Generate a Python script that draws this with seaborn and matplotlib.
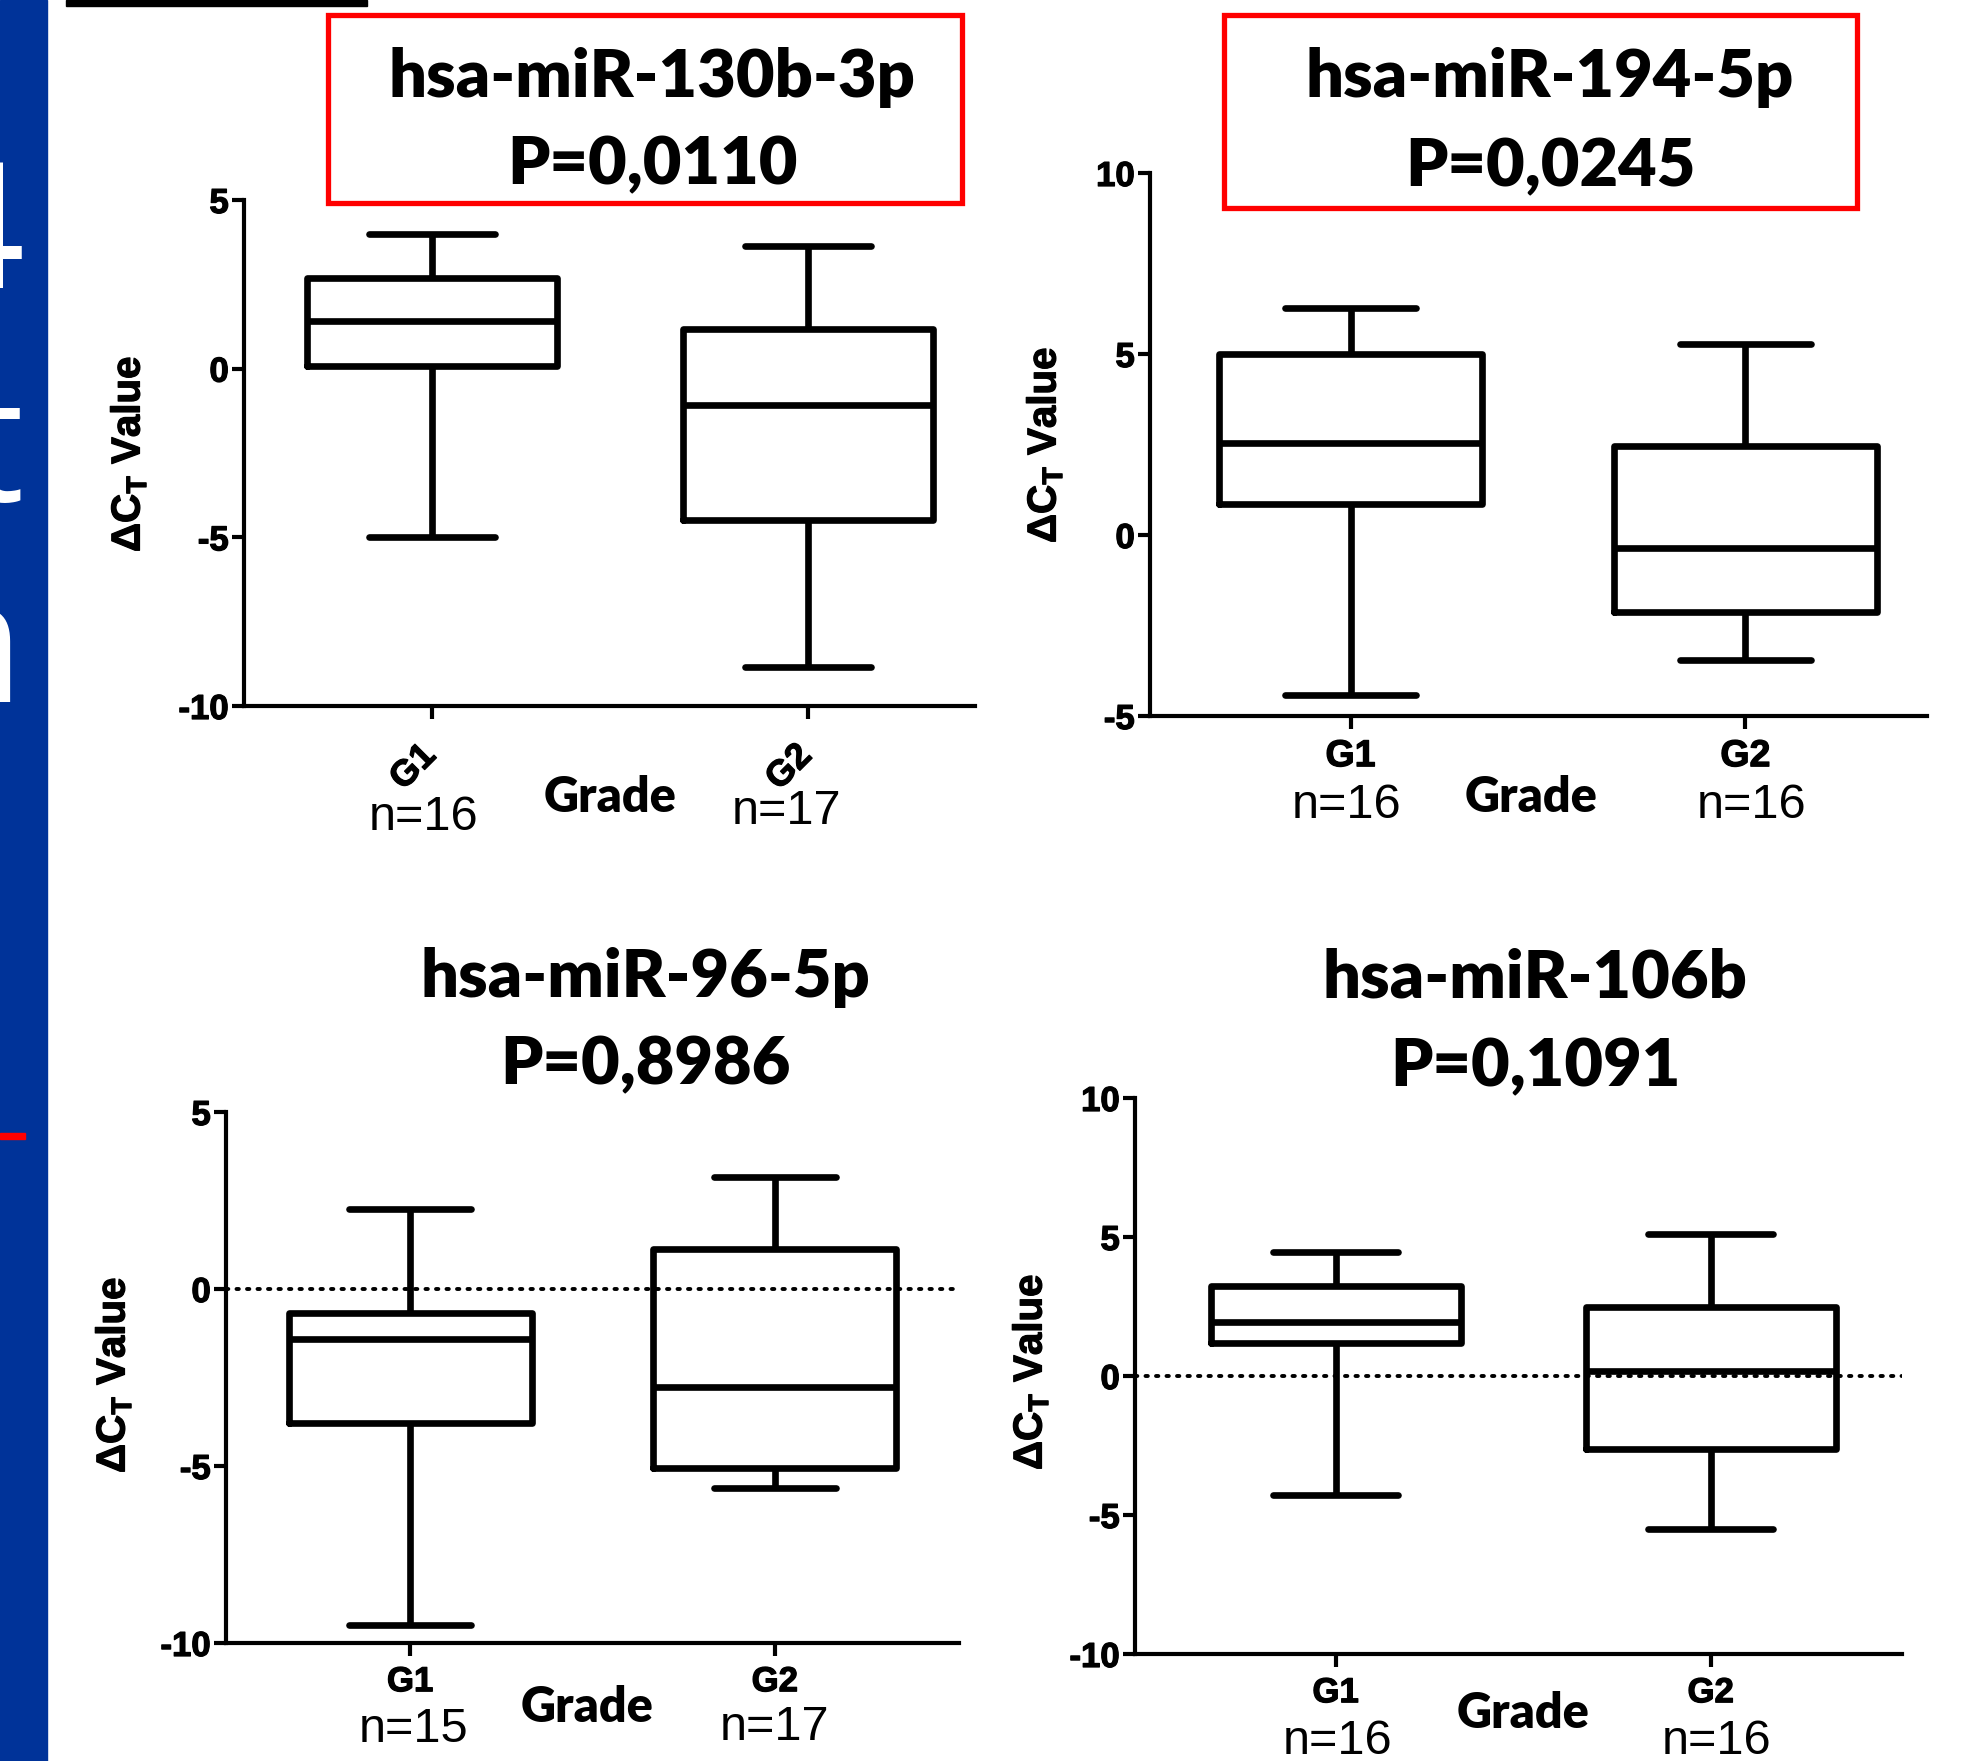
import matplotlib
matplotlib.use("Agg")
import matplotlib.pyplot as plt
import matplotlib.patheffects as pe
from matplotlib.transforms import ScaledTranslation
import seaborn as sns
import pandas as pd
from matplotlib.patches import Rectangle

sns.set_theme(style="ticks")
plt.rcParams['font.family'] = ['Liberation Sans', 'DejaVu Sans']
plt.rcParams['mathtext.fontset'] = 'custom'
plt.rcParams['mathtext.rm'] = 'Liberation Sans'
plt.rcParams['mathtext.bf'] = 'Liberation Sans:bold'
plt.rcParams['axes.unicode_minus'] = False

# ---------------- data (five-number summaries) ----------
groups = ["G1", "G2"]
mir130b_g1 = [-5.0, 0.07, 1.4, 2.7, 4.0]
mir130b_g2 = [-8.85, -4.5, -1.07, 1.19, 3.63]
mir194_g1 = [-4.41, 0.87, 2.53, 5.0, 6.28]
mir194_g2 = [-3.44, -2.12, -0.35, 2.47, 5.28]
mir96_g1 = [-9.48, -3.78, -1.41, -0.67, 2.26]
mir96_g2 = [-5.62, -5.06, -2.76, 1.13, 3.15]
mir106b_g1 = [-4.28, 1.17, 1.94, 3.24, 4.46]
mir106b_g2 = [-5.5, -2.61, 0.18, 2.48, 5.09]

titles = ["hsa-miR-130b-3p", "hsa-miR-194-5p", "hsa-miR-96-5p", "hsa-miR-106b"]
pvalues = ["P=0,0110", "P=0,0245", "P=0,8986", "P=0,1091"]
n_labels = [["n=16", "n=17"], ["n=16", "n=16"], ["n=15", "n=17"], ["n=16", "n=16"]]
y_ranges = [(-10, 5), (-5, 10), (-10, 5), (-10, 10)]
y_ticks = [[-10, -5, 0, 5], [-5, 0, 5, 10], [-10, -5, 0, 5], [-10, -5, 0, 5, 10]]
xlabel = "Grade"
ylabel = "ΔC$_\\mathbf{T}$ Value"

series = [(mir130b_g1, mir130b_g2), (mir194_g1, mir194_g2),
          (mir96_g1, mir96_g2), (mir106b_g1, mir106b_g2)]

# ---------------- layout (pixels in a 1965 x 1761 canvas) ---------------------
W, H = 1965, 1761
def fx(x): return x / W
def fy(y): return 1 - y / H

panels = [
    dict(l=244, r=975, t=200, b=706, xlim=(-0.5, 1.444), rot=45,
         title=(652, 78), pval=(652, 165), box=(328, 15, 962, 203),
         ylab=(128, 454), n=[(424, 817), (787, 812)], grade=(610, 798),
         zero=False, gsize=26),
    dict(l=1150, r=1927, t=173, b=716, xlim=(-0.508, 1.46), rot=0,
         title=(1550, 78), pval=(1550, 167), box=(1224, 15, 1857, 208),
         ylab=(1044, 445), n=[(1347, 805), (1752, 805)], grade=(1531, 797),
         zero=False, gsize=27),
    dict(l=226, r=959, t=1112, b=1643, xlim=(-0.505, 1.505), rot=0,
         title=(645, 978), pval=(645, 1065), box=None,
         ylab=(113, 1375), n=[(414, 1729), (775, 1727)], grade=(587, 1708),
         zero=True, gsize=25),
    dict(l=1135, r=1902, t=1098, b=1654, xlim=(-0.535, 1.51), rot=0,
         title=(1535, 978), pval=(1535, 1067), box=None,
         ylab=(1030, 1372), n=[(1338, 1742), (1717, 1742)], grade=(1523, 1714),
         zero=True, gsize=25),
]

fig = plt.figure(figsize=(W / 100, H / 100), dpi=100)
fig.patch.set_facecolor("white")

title_font = dict(family=["Lato", "DejaVu Sans"], weight="heavy", fontsize=48, color="black")
heavy = [pe.withStroke(linewidth=0.9, foreground="black")]

for i, p in enumerate(panels):
    ax = fig.add_axes([fx(p["l"]), fy(p["b"]), (p["r"] - p["l"]) / W, (p["b"] - p["t"]) / H])
    g1, g2 = series[i]
    df = pd.DataFrame({"grade": [groups[0]] * len(g1) + [groups[1]] * len(g2),
                       "value": list(g1) + list(g2)})
    if p["zero"]:
        ax.axhline(0, color="black", lw=2.8, ls=(0, (0.6, 2.1)), dash_capstyle="round", zorder=1)
    sns.boxplot(data=df, x="grade", y="value", order=groups, ax=ax,
                whis=(0, 100), width=0.667, fill=False, color="black",
                linewidth=4.8, showfliers=False, zorder=3)
    ax.set_xlim(*p["xlim"])
    ax.set_ylim(*y_ranges[i])
    ax.set_yticks(y_ticks[i])
    ax.set_xlabel("")
    ax.set_ylabel("")
    ax.set_facecolor("none")
    sns.despine(ax=ax)
    for s in ("left", "bottom"):
        ax.spines[s].set_linewidth(3.0)
        ax.spines[s].set_color("black")
    ax.tick_params(axis="both", length=9, width=3.0, color="black")
    ax.tick_params(axis="y", labelsize=25, pad=2, labelcolor="black")
    for lab in ax.get_yticklabels():
        lab.set_fontweight("bold")
        lab.set_path_effects(heavy)
    if p["rot"]:
        ax.tick_params(axis="x", labelsize=p["gsize"], pad=14, labelcolor="black")
        shift = ScaledTranslation(-10 / 72, 0, fig.dpi_scale_trans)
        for lab in ax.get_xticklabels():
            lab.set_fontweight("bold")
            lab.set_rotation(45)
            lab.set_ha("right")
            lab.set_va("top")
            lab.set_rotation_mode("anchor")
            lab.set_path_effects(heavy)
            lab.set_transform(lab.get_transform() + shift)
    else:
        ax.tick_params(axis="x", labelsize=p["gsize"], pad=7, labelcolor="black")
        for lab in ax.get_xticklabels():
            lab.set_fontweight("bold")
            lab.set_path_effects(heavy)

    fig.text(fx(p["title"][0]), fy(p["title"][1]), titles[i], ha="center", va="center", **title_font)
    fig.text(fx(p["pval"][0]), fy(p["pval"][1]), pvalues[i], ha="center", va="center", **title_font)
    if p["box"]:
        x0, y0, x1, y1 = p["box"]
        fig.patches.append(Rectangle((fx(x0), fy(y1)), (x1 - x0) / W, (y1 - y0) / H,
                                     transform=fig.transFigure, fill=False,
                                     ec="#ff0000", lw=3.8))
    fig.text(fx(p["ylab"][0]), fy(p["ylab"][1]), ylabel, rotation=90, ha="center",
             va="center", fontsize=29, fontweight="bold", color="black",
             path_effects=heavy)
    for (nx, ny), t in zip(p["n"], n_labels[i]):
        fig.text(fx(nx), fy(ny), t, ha="center", va="center", fontsize=35, color="black",
                 family=["Liberation Sans Narrow", "Liberation Sans"])
    fig.text(fx(p["grade"][0]), fy(p["grade"][1]), xlabel, ha="center", va="center",
             family=["Lato", "DejaVu Sans"], weight="heavy", fontsize=35, color="black")

# slide decorations: blue side bar with clipped white letters, top underline
fig.patches.append(Rectangle((0, 0), fx(47), 1, transform=fig.transFigure,
                             color="#003399", zorder=0))
for ch, yb in (("4", 288), ("t", 501), ("n", 702)):
    fig.text(fx(24), fy(yb), ch, ha="right", va="baseline", color="white",
             family=["Open Sans", "DejaVu Sans"], fontsize=126)
fig.patches.append(Rectangle((0, fy(1139)), fx(25), 6 / H, transform=fig.transFigure,
                             color="#ff0000", zorder=1))
fig.patches.append(Rectangle((fx(66), fy(6)), (367 - 66) / W, 6 / H,
                             transform=fig.transFigure, color="black", zorder=1))

fig.savefig("out.png", dpi=100)
